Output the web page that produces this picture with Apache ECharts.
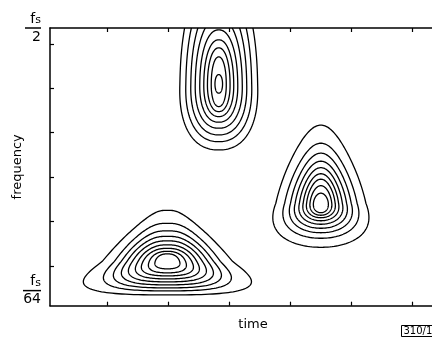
<!DOCTYPE html>
<html>
<head>
<meta charset="utf-8">
<script src="https://cdn.jsdelivr.net/npm/echarts@6/dist/echarts.min.js"></script>
<style>
html, body { margin: 0; background: #fff; }
#chart { width: 432px; height: 340px; }
</style>
</head>
<body>
<div id="chart"></div>
<script>
var timeTicks = [1, 2, 3, 4, 5, 6];
var freqTicks = [1, 2, 3, 4, 5, 6];
var freqLabelValues = [0.44, 6.36];
var freqLabelDenoms = ['64', '2'];

// centre of each atom (A top, B right, C bottom left)
var atomTime = [2.83, 4.50, 1.99];
var atomFreq = [5.10, 2.41, 1.10];
// outer contour shape: narrowing toward the top, squareness
var atomTaper = [0.1, 0.55, 0.8];
var atomSquare = [2.3, 2.05, 3.0];

// contour levels, outer to inner (time / frequency units)
var halfWidthA = [0.638, 0.540, 0.458, 0.385, 0.311, 0.245, 0.185, 0.123, 0.062];
var topA       = [2.481, 2.143, 1.805, 1.489, 1.218, 0.993, 0.812, 0.609, 0.210];
var bottomA    = [1.489, 1.302, 1.150, 0.999, 0.864, 0.738, 0.625, 0.512, 0.210];

var halfWidthB = [0.786, 0.622, 0.516, 0.434, 0.360, 0.295, 0.237, 0.180, 0.123];
var topB       = [1.760, 1.353, 1.128, 0.947, 0.801, 0.665, 0.541, 0.395, 0.226];
var bottomB    = [0.993, 0.790, 0.665, 0.564, 0.474, 0.395, 0.327, 0.271, 0.214];

var halfWidthC = [1.375, 1.047, 0.884, 0.753, 0.638, 0.524, 0.426, 0.311, 0.205];
var topC       = [1.150, 0.857, 0.688, 0.564, 0.462, 0.372, 0.293, 0.226, 0.169];
var bottomC    = [0.756, 0.665, 0.598, 0.530, 0.462, 0.395, 0.327, 0.259, 0.169];

var contourData = [];
[[halfWidthA, topA, bottomA], [halfWidthB, topB, bottomB], [halfWidthC, topC, bottomC]].forEach(function (set, b) {
    set[0].forEach(function (w, l) {
        var r = Math.sqrt(w / set[0][0]);
        contourData.push([atomTime[b], atomFreq[b], w, set[1][l], set[2][l],
            atomTaper[b] * r, 2 + (atomSquare[b] - 2) * r]);
    });
});

function renderContour(params, api) {
    var t0 = api.value(0), f0 = api.value(1), hw = api.value(2);
    var up = api.value(3), down = api.value(4), k = api.value(5), n = api.value(6);
    var raw = [], maxX = 0;
    for (var i = 0; i < 180; i++) {
        var a = i / 180 * Math.PI * 2;
        var c = Math.cos(a), s = Math.sin(a);
        var u = Math.sign(c) * Math.pow(Math.abs(c), 2 / n);
        var v = Math.sign(s) * Math.pow(Math.abs(s), 2 / n);
        var x = u * (1 - k * (v + 1) / 2);
        maxX = Math.max(maxX, Math.abs(x));
        raw.push([x, v]);
    }
    var pts = raw.map(function (p) {
        return api.coord([t0 + hw * p[0] / maxX, f0 + (p[1] > 0 ? up : down) * p[1]]);
    });
    var cs = params.coordSys;
    return {
        type: 'group',
        clipPath: { type: 'rect', shape: { x: cs.x, y: cs.y, width: cs.width, height: cs.height } },
        children: [{
            type: 'polygon',
            shape: { points: pts },
            style: { fill: 'none', stroke: '#000', lineWidth: 1.3 }
        }]
    };
}

var chart = echarts.init(document.getElementById('chart'));
var axisLine = { show: true, onZero: false, lineStyle: { color: '#000', width: 1.5 } };
var font = 'DejaVu Sans';

var option = {
    animation: false,
    backgroundColor: '#fff',
    textStyle: { fontFamily: font },
    grid: { left: 50, top: 28, width: 406, height: 277.7, containLabel: false, outerBoundsMode: 'none' },
    xAxis: [{
        type: 'value', min: 0.07, max: 6.71, position: 'bottom',
        name: 'time', nameLocation: 'middle', nameGap: 12, nameMoveOverlap: false,
        nameTextStyle: { color: '#000', fontSize: 13, fontFamily: font },
        axisLine: axisLine,
        axisTick: { show: true, inside: true, length: 4, customValues: timeTicks, lineStyle: { color: '#000', width: 1.2 } },
        axisLabel: { show: false },
        splitLine: { show: false }
    }, {
        type: 'value', min: 0.07, max: 6.71, position: 'top',
        axisLine: axisLine,
        axisTick: { show: true, inside: true, length: 4, customValues: timeTicks, lineStyle: { color: '#000', width: 1.2 } },
        axisLabel: { show: false },
        splitLine: { show: false }
    }],
    yAxis: {
        type: 'value', min: 0.1, max: 6.36,
        name: 'frequency', nameLocation: 'middle', nameRotate: 90, nameGap: 26, nameMoveOverlap: false,
        nameTextStyle: { color: '#000', fontSize: 13, fontFamily: font },
        axisLine: axisLine,
        axisTick: { show: true, inside: true, length: 4, customValues: freqTicks, lineStyle: { color: '#000', width: 1.2 } },
        axisLabel: {
            show: true, margin: 9, color: '#000',
            customValues: freqLabelValues,
            formatter: function (v) {
                var d = v > 3 ? freqLabelDenoms[1] : freqLabelDenoms[0];
                return '{f|f}{s|s}\n{' + (d.length > 1 ? 'barw' : 'bar') + '|}\n{d|' + d + '}';
            },
            rich: {
                f: { fontSize: 14, lineHeight: 14, fontFamily: font, color: '#000', verticalAlign: 'bottom' },
                s: { fontSize: 11, lineHeight: 4, fontFamily: font, color: '#000', verticalAlign: 'bottom' },
                bar: { width: 16, height: 1.5, lineHeight: 4, backgroundColor: '#000' },
                barw: { width: 18, height: 1.5, lineHeight: 4, backgroundColor: '#000' },
                d: { fontSize: 14, lineHeight: 14, fontFamily: font, color: '#000', verticalAlign: 'top' }
            }
        },
        splitLine: { show: false }
    },
    graphic: [{
        type: 'text', left: 401, top: 325,
        style: {
            text: '310/1', fontSize: 10, fontFamily: font, fill: '#000',
            borderColor: '#000', borderWidth: 1, padding: [1, 2, 0, 2]
        }
    }],
    series: [{
        type: 'custom',
        coordinateSystem: 'cartesian2d',
        renderItem: renderContour,
        clip: true,
        silent: true,
        data: contourData
    }]
};

chart.setOption(option);
</script>
</body>
</html>
